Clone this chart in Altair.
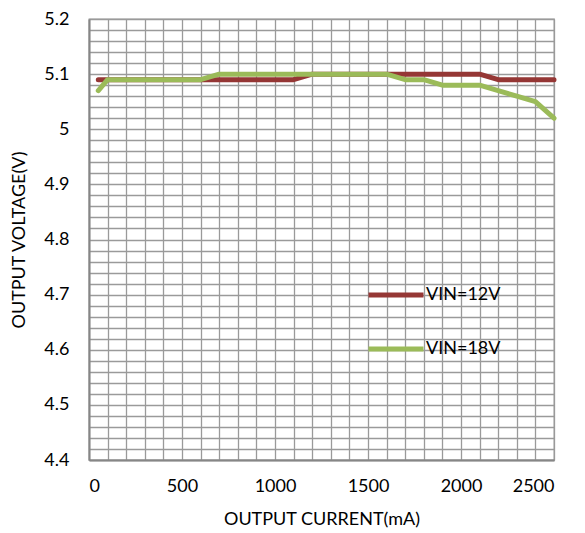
import altair as alt
import pandas as pd

current_12v = [50, 100, 200, 300, 400, 500, 600, 700, 800, 900, 1000, 1100, 1200, 1300,
               1400, 1500, 1600, 1700, 1800, 1900, 2000, 2100, 2200, 2300, 2400, 2500]
voltage_12v = [5.09, 5.09, 5.09, 5.09, 5.09, 5.09, 5.09, 5.09, 5.09, 5.09, 5.09, 5.09, 5.10, 5.10,
               5.10, 5.10, 5.10, 5.10, 5.10, 5.10, 5.10, 5.10, 5.09, 5.09, 5.09, 5.09]
current_18v = [50, 100, 200, 300, 400, 500, 600, 700, 800, 900, 1000, 1100, 1200, 1300,
               1400, 1500, 1600, 1700, 1800, 1900, 2000, 2100, 2200, 2300, 2400, 2500]
voltage_18v = [5.07, 5.09, 5.09, 5.09, 5.09, 5.09, 5.09, 5.10, 5.10, 5.10, 5.10, 5.10, 5.10, 5.10,
               5.10, 5.10, 5.10, 5.09, 5.09, 5.08, 5.08, 5.08, 5.07, 5.06, 5.05, 5.02]
series_names = ["VIN=12V", "VIN=18V"]
series_colors = ["#953735", "#9BBB59"]

x_grid = list(range(0, 2501, 100))
y_grid = [round(4.4 + 0.02 * i, 2) for i in range(41)]

rows = []
for x, y in zip(current_12v, voltage_12v):
    rows.append({"current": x, "voltage": y, "series": series_names[0], "order": 0})
for x, y in zip(current_18v, voltage_18v):
    rows.append({"current": x, "voltage": y, "series": series_names[1], "order": 1})
df = pd.DataFrame(rows)

FONT = "Lato"
FS = 18

chart = alt.Chart(df).mark_line(strokeWidth=5, strokeJoin="round", strokeCap="round").encode(
    x=alt.X("current:Q",
            scale=alt.Scale(domain=[0, 2500], nice=False, zero=False),
            axis=alt.Axis(values=x_grid, format="d",
                          labelExpr="datum.value % 500 === 0 ? datum.label : ''",
                          title="OUTPUT CURRENT(mA)", ticks=False, labelPadding=17,
                          titlePadding=15)),
    y=alt.Y("voltage:Q",
            scale=alt.Scale(domain=[4.4, 5.2], nice=False, zero=False),
            axis=alt.Axis(values=y_grid,
                          labelExpr="abs(datum.value*10 - round(datum.value*10)) < 0.001 ? '' + round(datum.value*10)/10 : ''",
                          title="OUTPUT VOLTAGE(V)", ticks=False, labelPadding=20,
                          titlePadding=15)),
    color=alt.Color("series:N",
                    scale=alt.Scale(domain=series_names, range=series_colors),
                    legend=alt.Legend(orient="none", legendX=277, legendY=246, title=None,
                                      symbolType="stroke", symbolSize=3025,
                                      symbolStrokeWidth=5, labelFontSize=FS, labelFont=FONT,
                                      labelColor="#000000", labelOffset=0, rowPadding=14)),
    order="order:Q",
).properties(
    width=465, height=441,
    padding={"left": 81, "top": 11, "right": 23, "bottom": 74},
    autosize=alt.AutoSizeParams(type="none"),
).configure_axis(
    labelFont=FONT, labelFontSize=FS, labelColor="#000000",
    titleFont=FONT, titleFontSize=FS, titleColor="#000000", titleFontWeight="normal",
    gridColor="#9a9a9a", gridWidth=1.3, gridOpacity=1,
    domainColor="#868686", domainWidth=2,
).configure_view(stroke="#9a9a9a", strokeWidth=1.3)

chart.save("out.html", embed_options={"renderer": "svg", "actions": False})
